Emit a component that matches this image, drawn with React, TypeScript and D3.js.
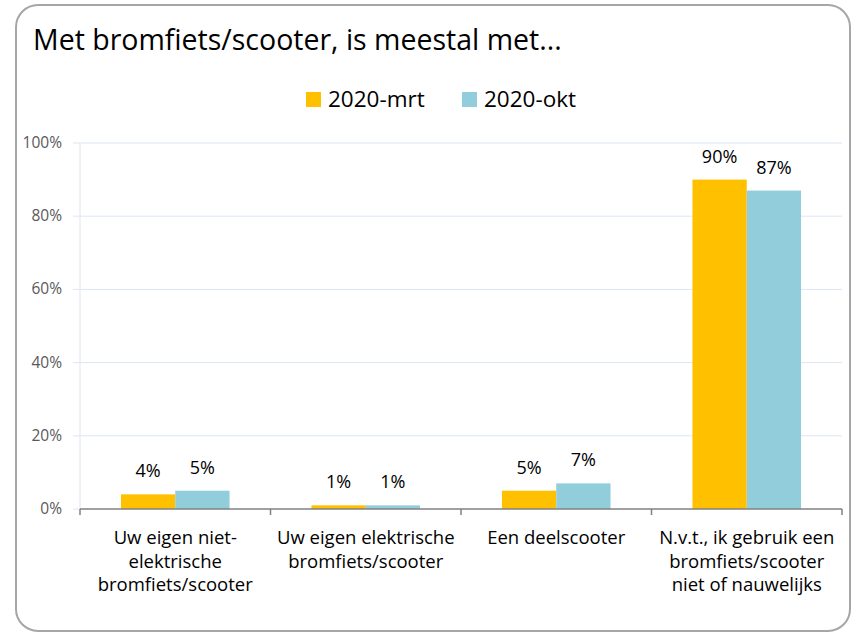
import React from 'react';
import * as d3 from 'd3';

const title = 'Met bromfiets/scooter, is meestal met...';
const seriesNames = ['2020-mrt', '2020-okt'];
const seriesColors = ['#FFC000', '#92CDDC'];
const categoryLines = [
  ['Uw eigen niet-', 'elektrische', 'bromfiets/scooter'],
  ['Uw eigen elektrische', 'bromfiets/scooter'],
  ['Een deelscooter'],
  ['N.v.t., ik gebruik een', 'bromfiets/scooter', 'niet of nauwelijks'],
];
const mrt = [4, 1, 5, 90];
const okt = [5, 1, 7, 87];
const yTicks = [0, 20, 40, 60, 80, 100];

const W = 857;
const H = 635;
const margin = { top: 143, right: 15, bottom: 126, left: 80 };
const font = '"Open Sans", "Noto Sans", sans-serif';

export default function App() {
  const x = d3.scaleBand<number>()
    .domain(d3.range(categoryLines.length))
    .range([margin.left, W - margin.right])
    .paddingInner(0.43)
    .paddingOuter(0.215);
  const step = x.step();
  const x0 = margin.left;
  const x1 = W - margin.right;
  const xs = d3.scaleBand<number>().domain([0, 1]).range([0, x.bandwidth()]);
  const y = d3.scaleLinear().domain([0, 100]).range([H - margin.bottom, margin.top]);
  const series = [mrt, okt];

  return (
    <svg width={W} height={H} style={{ position: 'absolute', left: 0, top: 0 }} fontFamily={font}>
      <rect x={16} y={5} width={834} height={626} rx={22} fill="#fff" stroke="#A6A6A6" strokeWidth={2} />
      <text x={33} y={50} fontSize={28.5} fill="#000">{title}</text>

      {seriesNames.map((n, i) => {
        const lx = i === 0 ? 306 : 462;
        return (
          <g key={n}>
            <rect x={lx} y={92} width={15} height={15} fill={seriesColors[i]} />
            <text x={lx + 22} y={107} fontSize={22.5} fill="#000">{n}</text>
          </g>
        );
      })}

      {yTicks.map(t => (
        <g key={t}>
          {t > 0 && <line x1={x0} x2={x1} y1={y(t)} y2={y(t)} stroke="#DCE6F2" strokeWidth={1} />}
          <line x1={73} x2={x0} y1={y(t)} y2={y(t)} stroke="#DCE6F2" strokeWidth={1} />
          <text x={62} y={y(t) + 5} fontSize={15.5} textAnchor="end" fill="#595959">{t}%</text>
        </g>
      ))}
      <line x1={x0} x2={x0} y1={y(100)} y2={y(0)} stroke="#DCE6F2" strokeWidth={1} />

      {series.map((vals, s) =>
        vals.map((v, i) => {
          const bx = (x(i) ?? 0) + (xs(s) ?? 0);
          return (
            <g key={`${s}-${i}`}>
              <rect x={bx} y={y(v)} width={xs.bandwidth()} height={y(0) - y(v)} fill={seriesColors[s]} />
              <text x={bx + xs.bandwidth() / 2} y={y(v) - 17} fontSize={18} textAnchor="middle" fill="#000">{v}%</text>
            </g>
          );
        })
      )}

      <line x1={x0} x2={x1} y1={y(0)} y2={y(0)} stroke="#808080" strokeWidth={1.5} />
      {d3.range(categoryLines.length + 1).map(i => (
        <line key={i} x1={x0 + i * step} x2={x0 + i * step} y1={y(0)} y2={y(0) + 6} stroke="#808080" strokeWidth={1.5} />
      ))}

      {categoryLines.map((lines, i) => (
        <text key={i} x={(x(i) ?? 0) + x.bandwidth() / 2} y={544} fontSize={18.5} textAnchor="middle" fill="#000">
          {lines.map((l, j) => (
            <tspan key={j} x={(x(i) ?? 0) + x.bandwidth() / 2} dy={j === 0 ? 0 : 23.5}>{l}</tspan>
          ))}
        </text>
      ))}
    </svg>
  );
}
